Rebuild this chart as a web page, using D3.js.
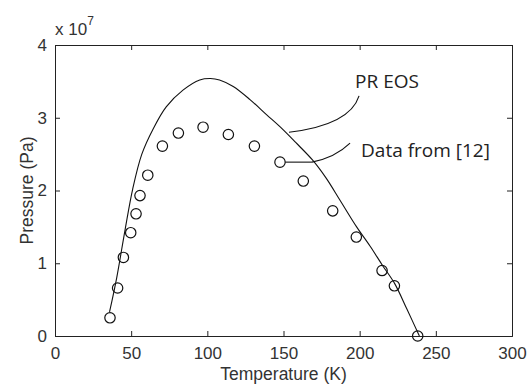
<!DOCTYPE html>
<html>
<head>
<meta charset="utf-8">
<script src="https://cdn.jsdelivr.net/npm/d3@7"></script>
<style>
  body { margin: 0; background: #fff; }
  svg { display: block; }
</style>
</head>
<body>
<div id="chart"></div>
<script>
// measured data points (K, 1e7 Pa)
const dataT = [36.1, 41.1, 44.9, 49.7, 53.2, 55.8, 60.9, 70.5, 81, 97.2, 113.8, 130.9, 147.7, 163, 182.3, 197.8, 214.7, 222.8, 238.1]
const dataP = [0.25, 0.66, 1.08, 1.42, 1.68, 1.93, 2.21, 2.61, 2.79, 2.87, 2.77, 2.61, 2.39, 2.13, 1.72, 1.36, 0.90, 0.69, 0.0]

// PR EOS curve
const eosT = [35.8, 40.5, 46, 51, 57, 64.5, 73, 84, 95, 102, 108, 117, 128, 139, 148, 158, 169, 178, 187, 198, 207, 215, 223, 231, 239.2]
const eosP = [0.33, 0.8, 1.46, 2.02, 2.5, 2.85, 3.15, 3.38, 3.52, 3.54, 3.52, 3.43, 3.25, 3.04, 2.87, 2.66, 2.42, 2.17, 1.87, 1.5, 1.23, 0.97, 0.72, 0.37, 0]

const xTicks = [0, 50, 100, 150, 200, 250, 300]
const yTicks = [0, 1, 2, 3, 4]

const width = 527
const height = 385
const margin = {left: 55, right: 15, top: 45, bottom: 49}

const svg = d3.select('#chart').append('svg')
  .attr('width', width)
  .attr('height', height)

const x = d3.scaleLinear().domain([0, 300]).range([margin.left, width - margin.right])
const y = d3.scaleLinear().domain([0, 4]).range([height - margin.bottom, margin.top])

const tickLen = 5
const font = '"Liberation Sans", Arial, sans-serif'
const fmt = d3.format('d')

// axes, MATLAB style: ticks pointing inward, box all round
svg.append('g')
  .attr('transform', 'translate(0,' + y(0) + ')')
  .call(d3.axisBottom(x).tickValues(xTicks).tickFormat(fmt).tickSize(-tickLen).tickPadding(11))
svg.append('g')
  .attr('transform', 'translate(0,' + y(4) + ')')
  .call(d3.axisTop(x).tickValues(xTicks).tickSize(-tickLen).tickFormat(''))
svg.append('g')
  .attr('transform', 'translate(' + x(0) + ',0)')
  .call(d3.axisLeft(y).tickValues(yTicks).tickFormat(fmt).tickSize(-tickLen).tickPadding(8))
svg.append('g')
  .attr('transform', 'translate(' + x(300) + ',0)')
  .call(d3.axisRight(y).tickValues(yTicks).tickSize(-tickLen).tickFormat(''))

svg.selectAll('g').attr('font-family', font).attr('font-size', 17)
svg.selectAll('.domain').attr('stroke', '#222')
svg.selectAll('.tick line').attr('stroke', '#222')
svg.selectAll('.tick text').attr('fill', '#333')

// exponent label
const expo = svg.append('text')
  .attr('x', x(0))
  .attr('y', 35)
  .attr('font-family', font)
  .attr('font-size', 17)
  .attr('fill', '#333')
expo.append('tspan').text('x 10')
expo.append('tspan').attr('dy', -10).attr('font-size', 12).text('7')

// axis titles
svg.append('text')
  .attr('x', (x(0) + x(300)) / 2)
  .attr('y', 380)
  .attr('text-anchor', 'middle')
  .attr('font-family', font)
  .attr('font-size', 17.5)
  .attr('fill', '#333')
  .text('Temperature (K)')

svg.append('text')
  .attr('transform', 'translate(' + 33 + ',' + y(2) + ') rotate(-90)')
  .attr('text-anchor', 'middle')
  .attr('font-family', font)
  .attr('font-size', 17.5)
  .attr('fill', '#333')
  .text('Pressure (Pa)')

// PR EOS curve
const eos = eosT.map((t, i) => [t, eosP[i]])
svg.append('path')
  .datum(eos)
  .attr('fill', 'none')
  .attr('stroke', '#111')
  .attr('stroke-width', 1.1)
  .attr('d', d3.line().x(d => x(d[0])).y(d => y(d[1])).curve(d3.curveCatmullRom.alpha(0.5)))

// measured points
svg.append('g').selectAll('circle')
  .data(dataT.map((t, i) => [t, dataP[i]]))
  .join('circle')
  .attr('cx', d => x(d[0]))
  .attr('cy', d => y(d[1]))
  .attr('r', 5.2)
  .attr('fill', 'none')
  .attr('stroke', '#111')
  .attr('stroke-width', 1.2)

// annotations (positions in data units)
const labelFont = '"Open Sans", "Noto Sans", sans-serif'
const ann = svg.append('g')
  .attr('fill', 'none')
  .attr('stroke', '#111')
  .attr('stroke-width', 1.1)

const q = (p0, c, p1) => 'M' + x(p0[0]) + ',' + y(p0[1]) +
  'Q' + x(c[0]) + ',' + y(c[1]) + ' ' + x(p1[0]) + ',' + y(p1[1])

ann.append('path').attr('d', q([153.6, 2.80], [193.6, 2.90], [199.6, 3.30]))
ann.append('path').attr('d', 'M' + (x(147.7) + 5.2) + ',' + y(2.39) + 'H' + x(168.7))
ann.append('path').attr('d', q([168.7, 2.39], [183.8, 2.45], [193.7, 2.65]))

svg.append('text')
  .attr('x', x(197))
  .attr('y', y(3.41))
  .attr('font-family', labelFont)
  .attr('font-size', 19)
  .attr('fill', '#222')
  .text('PR EOS')

svg.append('text')
  .attr('x', x(200.9))
  .attr('y', y(2.46))
  .attr('font-family', labelFont)
  .attr('font-size', 19)
  .attr('fill', '#222')
  .text('Data from [12]')
</script>
</body>
</html>
